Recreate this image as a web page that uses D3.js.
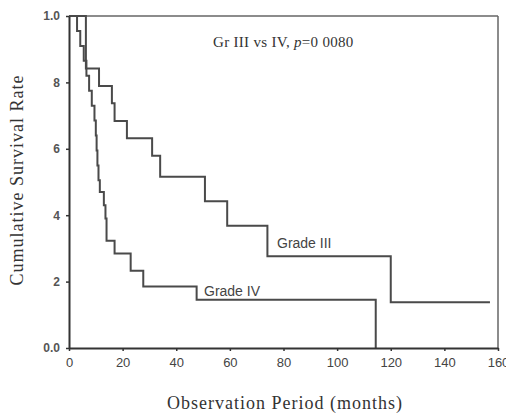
<!DOCTYPE html>
<html><head><meta charset="utf-8">
<script src="https://cdn.jsdelivr.net/npm/d3@7"></script>
<style>body{margin:0;background:#fff}svg{display:block}</style>
</head><body>
<svg id="c" width="506" height="414"></svg>
<script>
// Kaplan-Meier step data [month, survival]
const gradeIII = [[0,1.0],[6.3,0.842],[11.2,0.789],[16,0.737],[17,0.684],[21.6,0.632],[31,0.579],[34,0.516],[50.7,0.442],[59,0.368],[74,0.276],[120,0.138],[157,0.138]];
const gradeIV = [[0,1.0],[3,0.955],[4.2,0.91],[5.5,0.865],[6.5,0.82],[7.5,0.775],[8.5,0.73],[9.5,0.685],[10,0.64],[10.3,0.595],[10.6,0.55],[11,0.505],[11.5,0.47],[13,0.43],[13.6,0.39],[14,0.323],[17,0.285],[23,0.233],[27.7,0.185],[47.6,0.145],[114.4,0.0]];
const xTicks = [0,20,40,60,80,100,120,140,160];
const yTicks = [0,0.2,0.4,0.6,0.8,1.0];
const yTickLabels = ["0.0","2","4","6","8","1.0"];
const seriesLabels = ["Grade III","Grade IV"];

const svg = d3.select("#c");
const m = {l:69, r:498, t:16, b:348};
const x = d3.scaleLinear().domain([0,160]).range([m.l, m.r]);
const y = d3.scaleLinear().domain([0,1]).range([m.b, m.t]);
const sans = "Arial, 'Liberation Sans', sans-serif";
const serif = "'Liberation Serif', 'Times New Roman', serif";

// frame
svg.append("line").attr("x1",m.l).attr("x2",m.r).attr("y1",m.t).attr("y2",m.t).attr("stroke","#666").attr("stroke-width",1.5);
svg.append("line").attr("x1",m.r).attr("x2",m.r).attr("y1",m.t).attr("y2",m.b).attr("stroke","#666").attr("stroke-width",1.5);

const line = d3.line().x(d=>x(d[0])).y(d=>y(d[1])).curve(d3.curveStepAfter);
[gradeIII, gradeIV].forEach(s=>{
  svg.append("path").attr("d", line(s)).attr("fill","none").attr("stroke","#4a4a4a").attr("stroke-width",2);
});

// axes
const xAxis = d3.axisBottom(x).tickValues(xTicks).tickSize(3).tickSizeOuter(0).tickPadding(7);
const gx = svg.append("g").attr("transform",`translate(0,${m.b})`).call(xAxis);
gx.select(".domain").attr("stroke","#333").attr("stroke-width",2);
gx.selectAll(".tick line").attr("stroke","#333").attr("stroke-width",1.5);
gx.selectAll(".tick text").attr("font-family",sans).attr("font-size",13).attr("fill","#444");

const yAxis = d3.axisLeft(y).tickValues(yTicks).tickFormat((d,i)=>yTickLabels[i]).tickSize(3).tickSizeOuter(0).tickPadding(6);
const gy = svg.append("g").attr("transform",`translate(${m.l},0)`).call(yAxis);
gy.select(".domain").attr("stroke","#333").attr("stroke-width",2);
gy.selectAll(".tick line").attr("stroke","#333").attr("stroke-width",1.5);
gy.selectAll(".tick text").attr("font-family",sans).attr("font-size",12).attr("font-weight","bold").attr("fill","#555");

// annotations
const ann = svg.append("text").attr("x",213).attr("y",47).attr("font-family",serif).attr("font-size",15).attr("letter-spacing",0.3).attr("fill","#333");
ann.append("tspan").text("Gr III vs IV, ");
ann.append("tspan").attr("font-style","italic").text("p");
ann.append("tspan").text("=0 0080");

svg.append("text").attr("x",277).attr("y",248).attr("font-family",sans).attr("font-size",14).attr("fill","#444").text(seriesLabels[0]);
svg.append("text").attr("x",204).attr("y",296).attr("font-family",sans).attr("font-size",14).attr("fill","#444").text(seriesLabels[1]);

// axis titles
svg.append("text").attr("x",285).attr("y",409).attr("text-anchor","middle").attr("font-family",serif).attr("font-size",18).attr("letter-spacing",1).attr("fill","#333").text("Observation Period (months)");
svg.append("text").attr("transform","translate(23,180) rotate(-90)").attr("text-anchor","middle").attr("font-family",serif).attr("font-size",18).attr("letter-spacing",1).attr("fill","#333").text("Cumulative Survival Rate");
</script>
</body></html>
